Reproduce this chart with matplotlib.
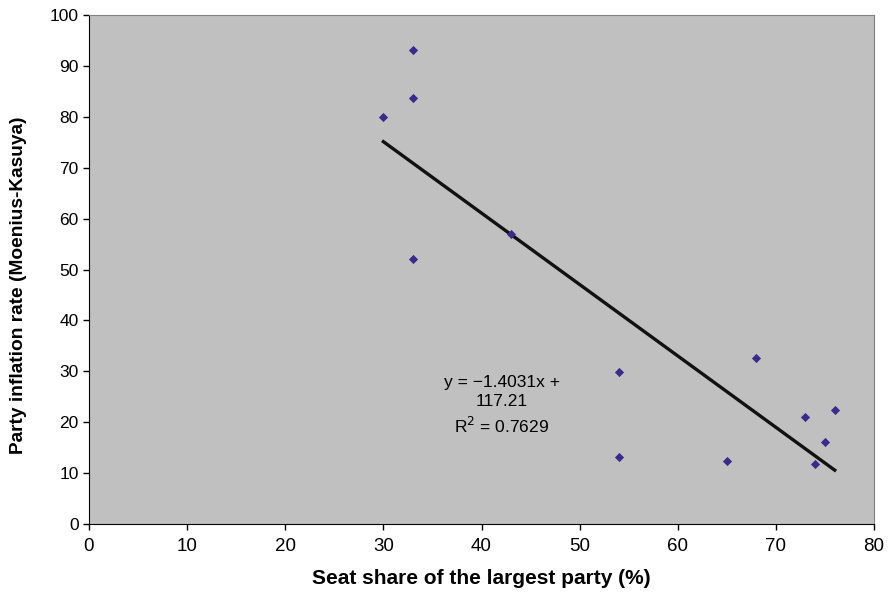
import numpy as np
import matplotlib.pyplot as plt

# seat share of largest party (%) vs party inflation rate
seat_share = [30, 33, 33, 33, 43, 54, 54, 65, 68, 73, 74, 75, 76]
inflation = [80.0, 93.2, 83.6, 52.0, 56.9, 29.9, 13.2, 12.3, 32.6, 21.0, 11.7, 16.2, 22.4]

slope, intercept = -1.4031, 117.21
x_ticks = list(range(0, 81, 10))
y_ticks = list(range(0, 101, 10))

regular = ['Liberation Sans', 'DejaVu Sans']

fig = plt.figure(figsize=(8.91, 5.94), dpi=100)
ax = fig.add_axes([89 / 891, 70 / 594, 785 / 891, 509 / 594])
ax.set_facecolor('#c0c0c0')

ax.scatter(seat_share, inflation, marker='D', s=22, color='#3b2a8e', zorder=3, linewidths=0)

xs = np.array([min(seat_share), max(seat_share)])
ax.plot(xs, slope * xs + intercept, color='#111111', lw=2.4, zorder=2)

ax.text(42.1, 23.3, 'y = \u22121.4031x +\n117.21\nR$^2$ = 0.7629', ha='center', va='center',
        fontsize=12.5, family=regular, linespacing=1.35)

ax.set_xlim(0, 80)
ax.set_ylim(0, 100)
ax.set_xticks(x_ticks)
ax.set_yticks(y_ticks)
ax.tick_params(direction='out', length=4, width=1, color='black')
ax.tick_params(axis='x', pad=6)
for lab in ax.get_xticklabels():
    lab.set_family(regular)
    lab.set_fontsize(13.5)
for lab in ax.get_yticklabels():
    lab.set_family(regular)
    lab.set_fontsize(12.5)

ax.spines['left'].set_color('black')
ax.spines['bottom'].set_color('black')
ax.spines['top'].set_color('#808080')
ax.spines['right'].set_color('#808080')

ax.set_xlabel('Seat share of the largest party (%)', fontsize=15, fontweight='bold',
              family=regular, labelpad=10)
ax.set_ylabel('Party inflation rate (Moenius-Kasuya)', fontsize=13.8, fontweight='bold',
              family=regular)
ax.yaxis.set_label_coords(-0.079, 0.47)

fig.savefig('out.png', dpi=100)
